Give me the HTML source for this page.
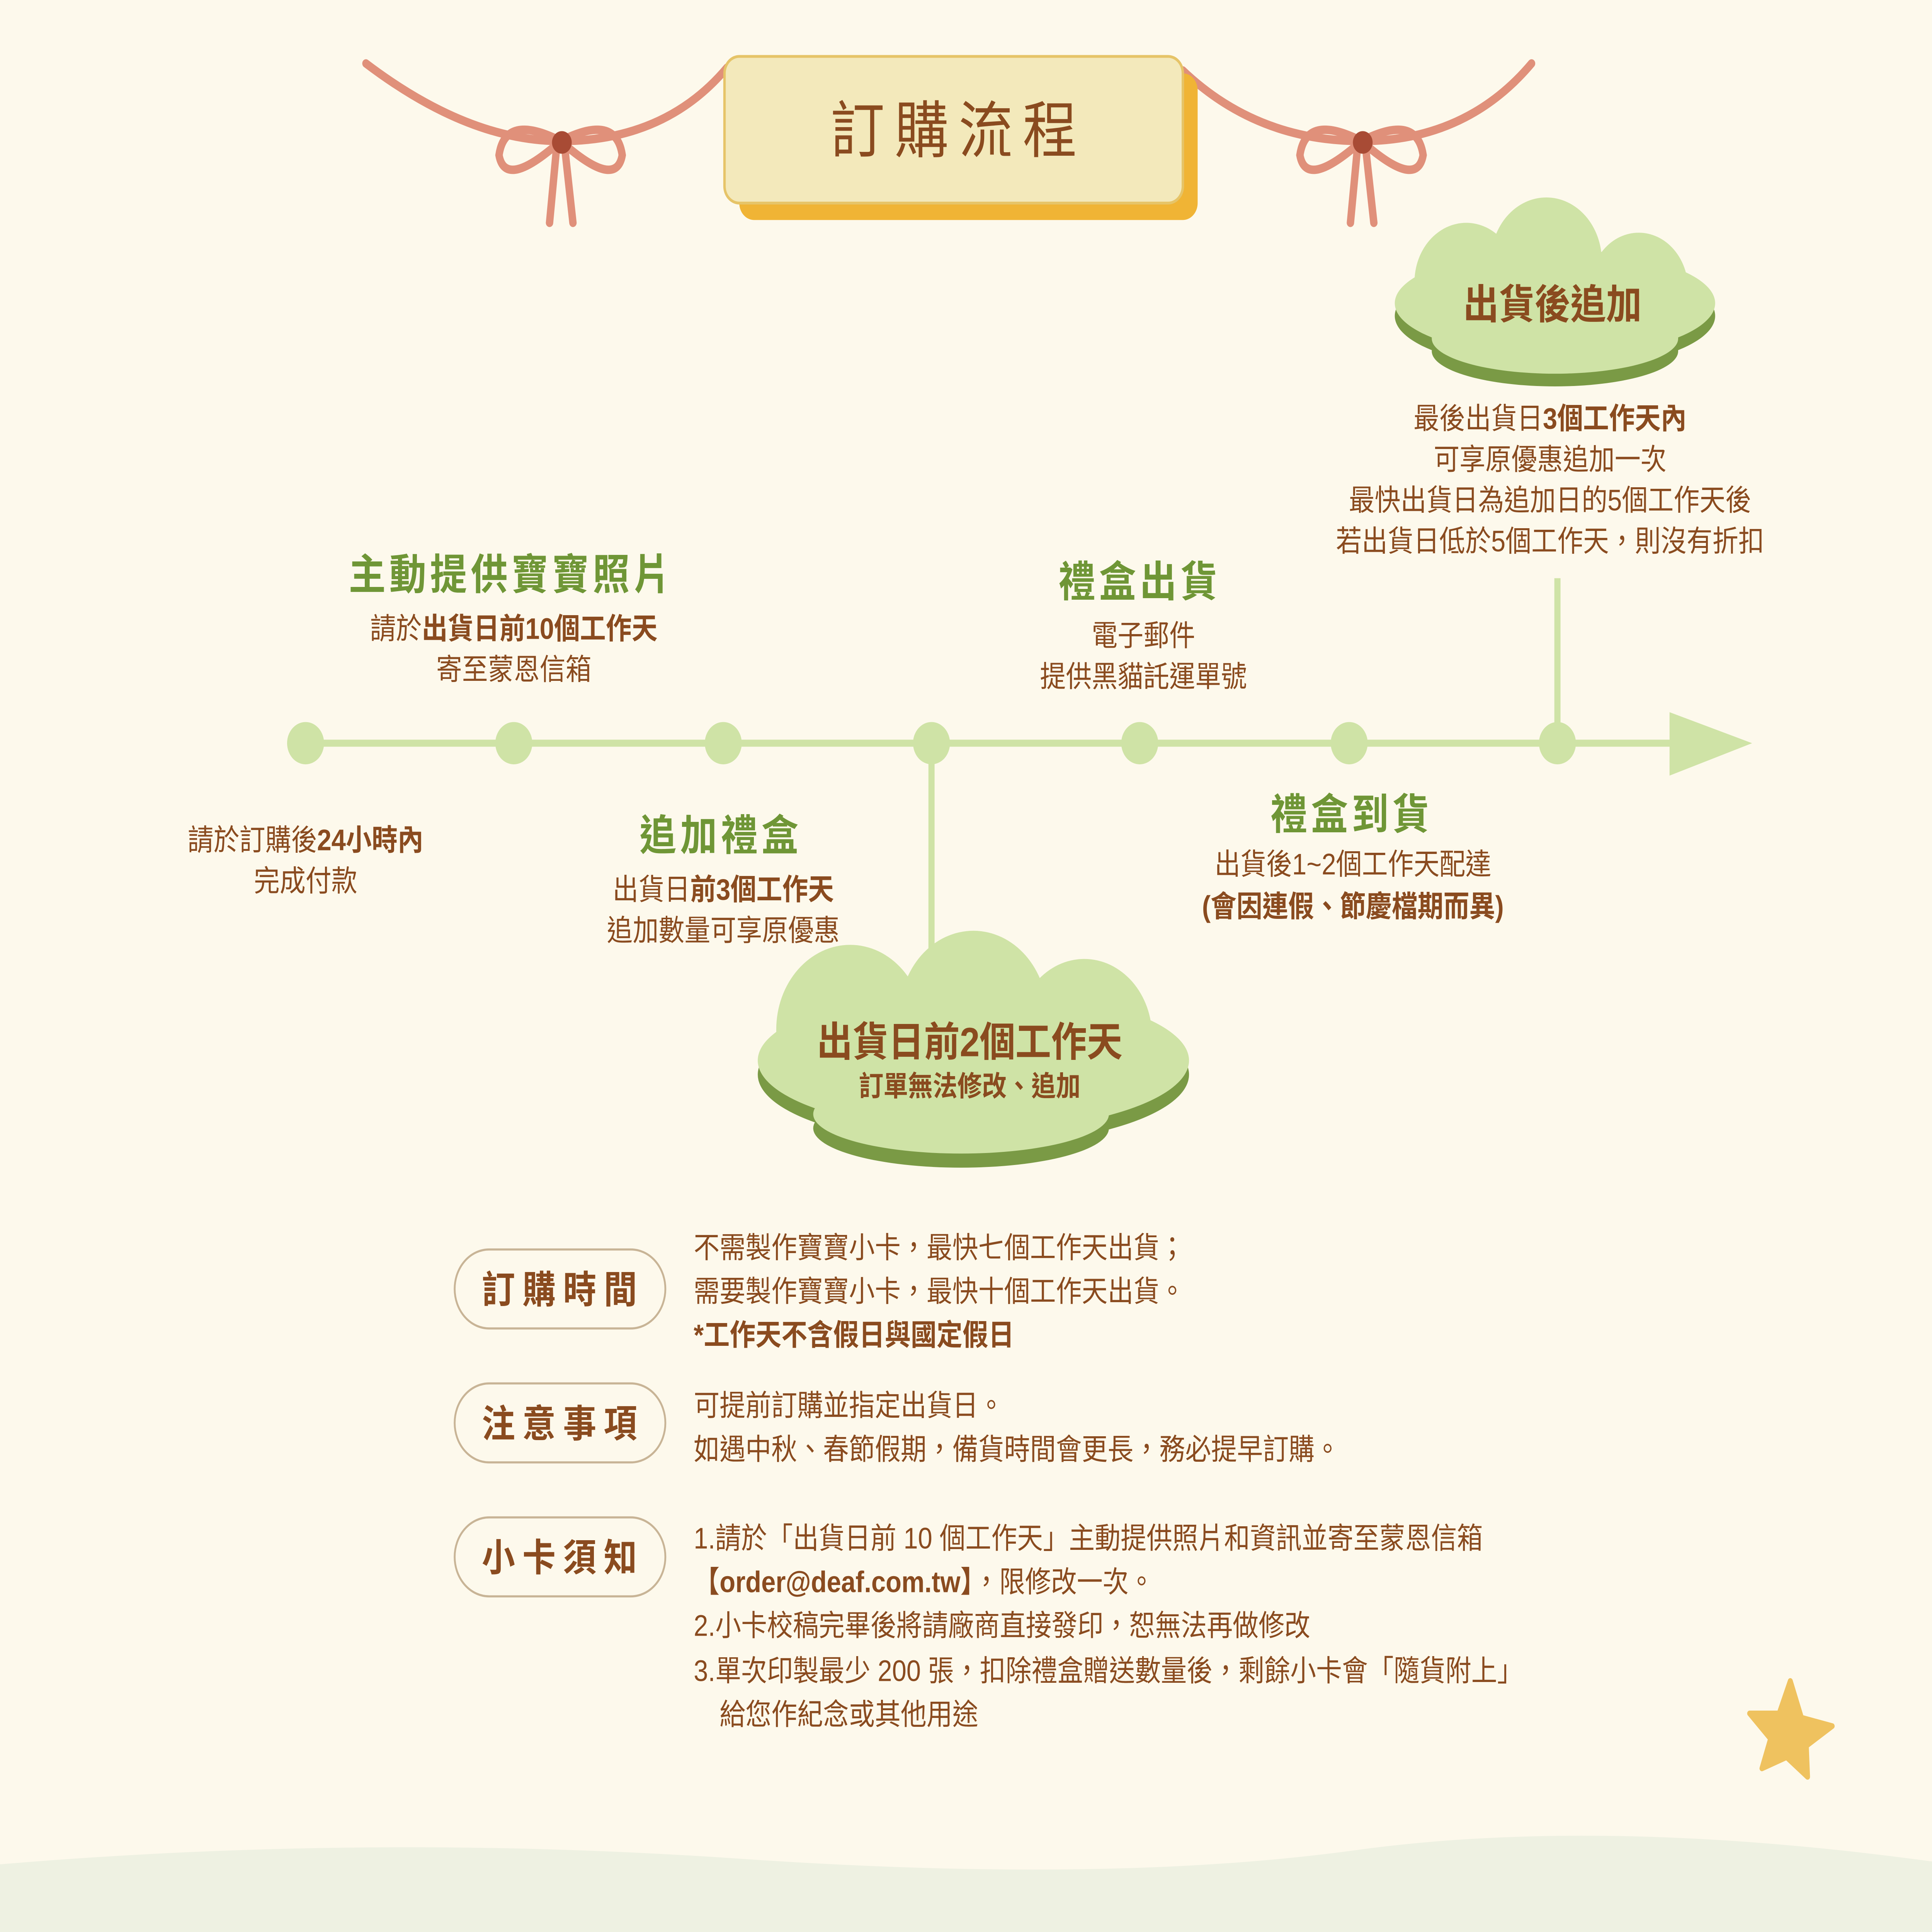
<!DOCTYPE html>
<html><head><meta charset="utf-8"><style>
html,body{margin:0;padding:0;background:#fdf9ec;width:100%;height:100%;overflow:hidden;}
svg{display:block;width:100vw;height:100vh;}
text{font-family:"Liberation Sans","Noto Sans CJK TC",sans-serif;fill:#8a4b1f;}
.h{fill:#6f9636;font-weight:bold;font-size:30px;letter-spacing:3px;}
.p{font-size:21px;}
.r{font-size:21px;}
.b{font-weight:bold;}
.pl{font-size:27px;font-weight:bold;letter-spacing:6px;}
</style></head><body>
<svg viewBox="0 0 1568 1370" preserveAspectRatio="none" xmlns="http://www.w3.org/2000/svg">
<rect width="1568" height="1370" fill="#fdf9ec"/>
<path d="M0 1322 Q300 1300 600 1318 T1100 1312 T1568 1320 V1370 H0Z" fill="#eef1e2"/>
<g fill="none" stroke="#e0907a" stroke-width="6" stroke-linecap="round">
<path d="M297 45 Q380 100 455 100 Q540 100 590 48"/>
<path d="M960 50 Q1020 100 1105 100 Q1190 100 1243 45"/>
<path d="M455 100 Q410 80 405 110 Q410 135 455 100 Q500 80 505 110 Q500 135 455 100"/>
<path d="M452 102 L446 158 M458 102 L465 158"/>
<path d="M1105 100 Q1060 80 1055 110 Q1060 135 1105 100 Q1150 80 1155 110 Q1150 135 1105 100"/>
<path d="M1102 102 L1096 158 M1108 102 L1115 158"/>
</g>
<circle cx="456" cy="101" r="8" fill="#a84b35"/>
<circle cx="1106" cy="101" r="8" fill="#a84b35"/>
<rect x="600" y="52" width="372" height="104" rx="12" fill="#f0b435"/>
<rect x="588" y="40" width="372" height="104" rx="12" fill="#f3e9bb" stroke="#e6c468" stroke-width="2"/>
<g stroke="#cfe3a6" stroke-width="5">
<line x1="248" y1="527" x2="1370" y2="527"/>
<line x1="756" y1="527" x2="756" y2="690"/>
<line x1="1264" y1="410" x2="1264" y2="527"/>
</g>
<polygon points="1355,505 1422,527 1355,550" fill="#cfe3a6"/>
<g fill="#cfe3a6">
<circle cx="248" cy="527" r="15"/><circle cx="417" cy="527" r="15"/><circle cx="587" cy="527" r="15"/><circle cx="756" cy="527" r="15"/><circle cx="925" cy="527" r="15"/><circle cx="1095" cy="527" r="15"/><circle cx="1264" cy="527" r="15"/>
</g>
<g fill="#7a9a45" transform="translate(0,9)">
<ellipse cx="1262" cy="215" rx="130" ry="38"/><circle cx="1190" cy="200" r="42"/><circle cx="1255" cy="185" r="45"/><circle cx="1330" cy="205" r="40"/><ellipse cx="1262" cy="240" rx="100" ry="25"/>
</g>
<g fill="#cfe3a6">
<ellipse cx="1262" cy="215" rx="130" ry="38"/><circle cx="1190" cy="200" r="42"/><circle cx="1255" cy="185" r="45"/><circle cx="1330" cy="205" r="40"/><ellipse cx="1262" cy="240" rx="100" ry="25"/>
</g>
<g fill="#7a9a45" transform="translate(0,10)">
<ellipse cx="790" cy="752" rx="175" ry="50"/><circle cx="690" cy="730" r="60"/><circle cx="790" cy="720" r="60"/><circle cx="880" cy="735" r="55"/><ellipse cx="780" cy="790" rx="120" ry="28"/>
</g>
<g fill="#cfe3a6">
<ellipse cx="790" cy="752" rx="175" ry="50"/><circle cx="690" cy="730" r="60"/><circle cx="790" cy="720" r="60"/><circle cx="880" cy="735" r="55"/><ellipse cx="780" cy="790" rx="120" ry="28"/>
</g>
<path d="M1453 1192 L1462 1218 L1487 1224 L1466 1238 L1467 1260 L1450 1246 L1430 1254 L1437 1233 L1420 1215 L1444 1215Z" fill="#efc25f" stroke="#efc25f" stroke-width="4" stroke-linejoin="round"/>

<g text-anchor="middle">
<text x="778" y="108" font-size="44" letter-spacing="8">訂購流程</text>
<text x="1260" y="226" font-size="29" class="b">出貨後追加</text>
<text x="1258" y="304" class="p">最後出貨日<tspan class="b">3個工作天內</tspan></text>
<text x="1258" y="333" class="p">可享原優惠追加一次</text>
<text x="1258" y="362" class="p">最快出貨日為追加日的5個工作天後</text>
<text x="1258" y="391" class="p">若出貨日低於5個工作天，則沒有折扣</text>
<text x="415" y="418" class="h">主動提供寶寶照片</text>
<text x="417" y="453" class="p">請於<tspan class="b">出貨日前10個工作天</tspan></text>
<text x="417" y="482" class="p">寄至蒙恩信箱</text>
<text x="925" y="423" class="h">禮盒出貨</text>
<text x="928" y="458" class="p">電子郵件</text>
<text x="928" y="487" class="p">提供黑貓託運單號</text>
<text x="248" y="603" class="p">請於訂購後<tspan class="b">24小時內</tspan></text>
<text x="248" y="632" class="p">完成付款</text>
<text x="585" y="603" class="h">追加禮盒</text>
<text x="587" y="638" class="p">出貨日<tspan class="b">前3個工作天</tspan></text>
<text x="587" y="667" class="p">追加數量可享原優惠</text>
<text x="1097" y="588" class="h">禮盒到貨</text>
<text x="1098" y="620" class="p">出貨後1~2個工作天配達</text>
<text x="1098" y="650" class="p b">(會因連假、節慶檔期而異)</text>
<text x="787" y="749" font-size="29" class="b">出貨日前2個工作天</text>
<text x="787" y="777" font-size="20" class="b">訂單無法修改、追加</text>
</g>

<g fill="none" stroke="#c8b496" stroke-width="1.5">
<rect x="369" y="886" width="171" height="56" rx="28"/>
<rect x="369" y="981" width="171" height="56" rx="28"/>
<rect x="369" y="1076" width="171" height="56" rx="28"/>
</g>
<g text-anchor="middle">
<text x="457" y="924" class="pl">訂購時間</text>
<text x="457" y="1019" class="pl">注意事項</text>
<text x="457" y="1114" class="pl">小卡須知</text>
</g>
<text x="563" y="892" class="r">不需製作寶寶小卡，最快七個工作天出貨；</text>
<text x="563" y="923" class="r">需要製作寶寶小卡，最快十個工作天出貨。</text>
<text x="563" y="954" class="r b">*工作天不含假日與國定假日</text>
<text x="563" y="1004" class="r">可提前訂購並指定出貨日。</text>
<text x="563" y="1035" class="r">如遇中秋、春節假期，備貨時間會更長，務必提早訂購。</text>
<text x="563" y="1098" class="r">1.請於「出貨日前 10 個工作天」主動提供照片和資訊並寄至蒙恩信箱</text>
<text x="563" y="1129" class="r"><tspan class="b">【order@deaf.com.tw】</tspan>，限修改一次。</text>
<text x="563" y="1160" class="r">2.小卡校稿完畢後將請廠商直接發印，恕無法再做修改</text>
<text x="563" y="1192" class="r">3.單次印製最少 200 張，扣除禮盒贈送數量後，剩餘小卡會「隨貨附上」</text>
<text x="584" y="1223" class="r">給您作紀念或其他用途</text>
</svg>
</body></html>
